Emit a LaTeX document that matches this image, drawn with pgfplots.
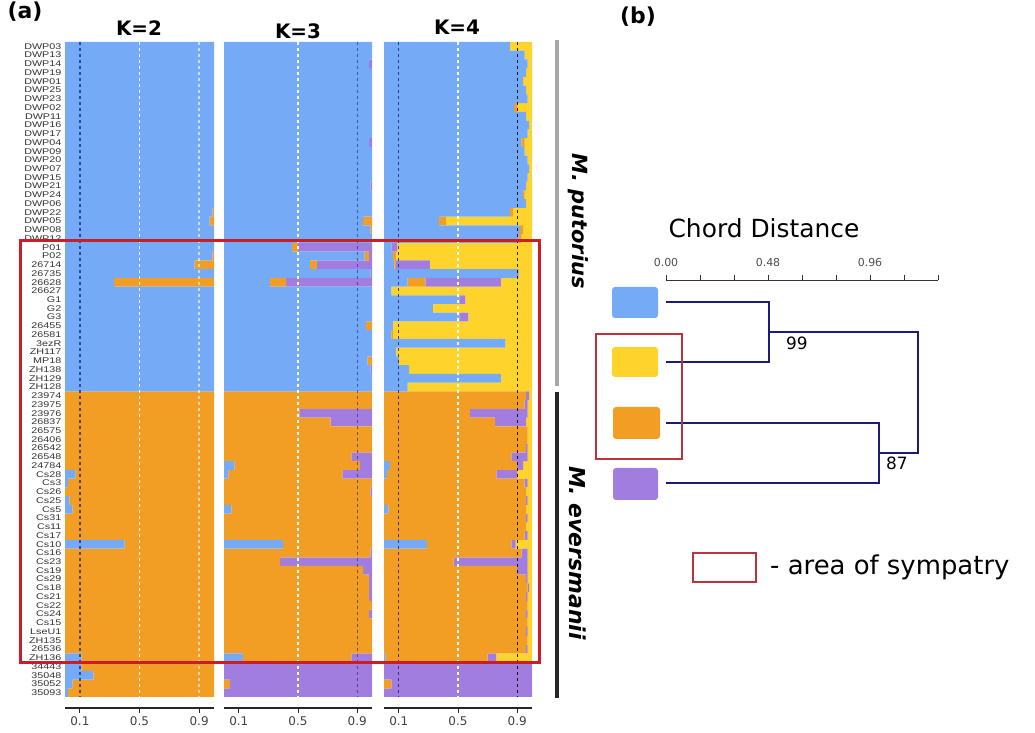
\documentclass[border=0pt]{standalone}
\usepackage{pgfplots}
\pgfplotsset{compat=1.18}
\usepackage{pgfplotstable}
\usepackage{fontspec}
\setmainfont{DejaVu Sans}
\newfontfamily\lblfont[FakeStretch=1.3]{Liberation Sans}
\definecolor{cB}{RGB}{116,170,246}
\definecolor{cO}{RGB}{242,157,35}
\definecolor{cY}{RGB}{254,212,44}
\definecolor{cP}{RGB}{160,125,222}
\definecolor{navy}{RGB}{28,28,120}
\definecolor{rbox}{RGB}{200,30,40}
\definecolor{rthin}{RGB}{190,50,60}
\tikzset{dashA/.style={line width=1.35bp, dash pattern=on 3.5bp off 2.5bp}}

\pgfplotstableread{
row b o
-1 1 0
-2 1 0
-3 1 0
-4 1 0
-5 1 0
-6 1 0
-7 1 0
-8 1 0
-9 1 0
-10 1 0
-11 1 0
-12 1 0
-13 1 0
-14 1 0
-15 1 0
-16 1 0
-17 1 0
-18 1 0
-19 1 0
-20 0.99 0.01
-21 0.97 0.03
-22 1 0
-23 1 0
-24 1 0
-25 0.99 0.01
-26 0.87 0.13
-27 1 0
-28 0.33 0.67
-29 1 0
-30 1 0
-31 1 0
-32 1 0
-33 1 0
-34 1 0
-35 1 0
-36 1 0
-37 1 0
-38 1 0
-39 1 0
-40 1 0
-41 0 1
-42 0 1
-43 0 1
-44 0 1
-45 0 1
-46 0 1
-47 0 1
-48 0 1
-49 0 1
-50 0.07 0.93
-51 0.02 0.98
-52 0 1
-53 0.03 0.97
-54 0.05 0.95
-55 0 1
-56 0 1
-57 0 1
-58 0.40 0.60
-59 0 1
-60 0 1
-61 0 1
-62 0 1
-63 0 1
-64 0 1
-65 0 1
-66 0 1
-67 0 1
-68 0 1
-69 0 1
-70 0 1
-71 0.11 0.89
-72 0.11 0.89
-73 0.19 0.81
-74 0.05 0.95
-75 0.02 0.98
}\ktwo

\pgfplotstableread{
row b o p
-1 1 0 0
-2 1 0 0
-3 0.98 0 0.02
-4 1 0 0
-5 1 0 0
-6 1 0 0
-7 1 0 0
-8 1 0 0
-9 1 0 0
-10 1 0 0
-11 1 0 0
-12 0.98 0 0.02
-13 1 0 0
-14 1 0 0
-15 1 0 0
-16 1 0 0
-17 0.99 0 0.01
-18 1 0 0
-19 1 0 0
-20 1 0 0
-21 0.94 0.06 0
-22 0.99 0.01 0
-23 1 0 0
-24 0.46 0.04 0.50
-25 0.95 0.03 0.02
-26 0.58 0.05 0.37
-27 0.99 0 0.01
-28 0.31 0.11 0.58
-29 1 0 0
-30 1 0 0
-31 1 0 0
-32 1 0 0
-33 0.96 0.04 0
-34 1 0 0
-35 1 0 0
-36 1 0 0
-37 0.97 0.03 0
-38 0.99 0 0.01
-39 1 0 0
-40 1 0 0
-41 0 1 0
-42 0 1 0
-43 0 0.51 0.49
-44 0 0.72 0.28
-45 0 1 0
-46 0 1 0
-47 0 1 0
-48 0 0.86 0.14
-49 0.07 0.85 0.08
-50 0.03 0.77 0.20
-51 0 1 0
-52 0 0.99 0.01
-53 0 1 0
-54 0.05 0.95 0
-55 0 1 0
-56 0 1 0
-57 0 1 0
-58 0.40 0.60 0
-59 0 0.99 0.01
-60 0 0.38 0.62
-61 0 0.94 0.06
-62 0 0.98 0.02
-63 0 0.98 0.02
-64 0 0.98 0.02
-65 0 1 0
-66 0 0.98 0.02
-67 0 1 0
-68 0 1 0
-69 0 1 0
-70 0 1 0
-71 0.13 0.73 0.14
-72 0 0 1
-73 0 0 1
-74 0 0.04 0.96
-75 0 0 1
}\kthree

\pgfplotstableread{
row b o p y
-1 0.85 0 0 0.15
-2 0.95 0 0 0.05
-3 0.97 0 0 0.03
-4 0.96 0 0 0.04
-5 0.94 0 0 0.06
-6 0.96 0 0 0.04
-7 0.97 0 0 0.03
-8 0.88 0.02 0 0.10
-9 0.96 0 0 0.04
-10 0.98 0 0 0.02
-11 0.97 0 0 0.03
-12 0.93 0.02 0 0.05
-13 0.95 0 0 0.05
-14 0.97 0 0 0.03
-15 0.98 0 0 0.02
-16 0.97 0 0 0.03
-17 0.96 0 0 0.04
-18 0.94 0.01 0 0.05
-19 0.96 0 0 0.04
-20 0.85 0.02 0 0.13
-21 0.37 0.05 0 0.58
-22 0.92 0.02 0 0.06
-23 0.91 0.02 0 0.07
-24 0.05 0 0.04 0.91
-25 0.06 0.02 0 0.92
-26 0.07 0.01 0.23 0.69
-27 0.90 0 0.01 0.09
-28 0.16 0.12 0.51 0.21
-29 0.05 0 0 0.95
-30 0.51 0 0.04 0.45
-31 0.33 0 0 0.67
-32 0.51 0 0.06 0.43
-33 0.06 0 0 0.94
-34 0.05 0.01 0 0.94
-35 0.82 0 0 0.18
-36 0.08 0 0 0.92
-37 0.10 0 0 0.90
-38 0.17 0 0 0.83
-39 0.79 0 0 0.21
-40 0.16 0 0 0.84
-41 0 0.96 0.02 0.02
-42 0 0.95 0.02 0.03
-43 0 0.58 0.39 0.03
-44 0 0.75 0.21 0.04
-45 0 0.97 0 0.03
-46 0 0.97 0 0.03
-47 0 0.96 0.01 0.03
-48 0 0.86 0.11 0.03
-49 0.04 0.86 0.04 0.06
-50 0.02 0.74 0.14 0.10
-51 0 0.95 0.02 0.03
-52 0 0.96 0 0.04
-53 0 0.96 0.01 0.03
-54 0.03 0.93 0 0.04
-55 0 0.96 0.01 0.03
-56 0 0.96 0 0.04
-57 0 0.95 0.02 0.03
-58 0.29 0.57 0.03 0.11
-59 0 0.93 0.04 0.03
-60 0 0.47 0.50 0.03
-61 0 0.90 0.07 0.03
-62 0 0.96 0.01 0.03
-63 0 0.97 0.01 0.02
-64 0 0.96 0.01 0.03
-65 0 0.97 0 0.03
-66 0 0.96 0.01 0.03
-67 0 0.97 0 0.03
-68 0 0.96 0.01 0.03
-69 0 0.97 0 0.03
-70 0 0.96 0.01 0.03
-71 0.01 0.69 0.06 0.24
-72 0 0 1 0
-73 0 0 1 0
-74 0 0.05 0.95 0
-75 0 0 1 0
}\kfour

\pgfplotsset{
  panel/.style={
    scale only axis, height=666bp,
    xmin=0, xmax=1, ymin=-76.76, ymax=-0.5,
    xbar stacked, bar width=1,
    axis x line=bottom, axis y line=left,
    axis line style={-},
    x axis line style={line width=1.2bp, black!85},
    y axis line style={draw=none},
    ytick style={draw=none},
    ytick=\empty,
    xtick={0.1,0.5,0.9},
    xtick align=outside, major tick length=5bp,
    xtick style={line width=1bp, black!85},
    xticklabel style={font=\fontsize{12}{12}\selectfont, text=black!75},
    /pgf/number format/assume math mode=true,
    clip=false,
  },
  over/.style={
    scale only axis, height=666bp,
    xmin=0, xmax=1, ymin=-76.76, ymax=-0.5,
    hide axis, clip=false,
  },
}

\begin{document}
\begin{tikzpicture}
\useasboundingbox (0,0) rectangle (1035bp,733bp);

% ---------- K=2 ----------
\begin{axis}[panel, at={(65bp,25bp)}, anchor=south west, width=149bp,
  ytick={-1,-2,...,-75},
  yticklabels={DWP03,DWP13,DWP14,DWP19,DWP01,DWP25,DWP23,DWP02,DWP11,DWP16,DWP17,DWP04,DWP09,DWP20,DWP07,DWP15,DWP21,DWP24,DWP06,DWP22,DWP05,DWP08,DWP12,P01,P02,26714,26735,26628,26627,G1,G2,G3,26455,26581,3ezR,ZH117,MP18,ZH138,ZH129,ZH128,23974,23975,23976,26837,26575,26406,26542,26548,24784,Cs28,Cs3,Cs26,Cs25,Cs5,Cs31,Cs11,Cs17,Cs10,Cs16,Cs23,Cs19,Cs29,Cs18,Cs21,Cs22,Cs24,Cs15,LseU1,ZH135,26536,ZH136,34443,35048,35052,35093},
  yticklabel style={font=\lblfont\fontsize{8.3}{8.3}\selectfont, text=black!80, inner sep=1bp}]
\addplot[fill=cB, draw=none] table[x=b,y=row]{\ktwo};
\addplot[fill=cO, draw=none] table[x=o,y=row]{\ktwo};
\end{axis}
\begin{axis}[over, at={(65bp,25bp)}, anchor=south west, width=149bp]
\addplot[navy, opacity=0.7, dashA, mark=none] coordinates {(0.1,-0.5) (0.1,-75.5)};
\addplot[white, dashA, mark=none] coordinates {(0.5,-0.5) (0.5,-75.5)};
\addplot[white, opacity=0.6, dashA, mark=none] coordinates {(0.9,-0.5) (0.9,-75.5)};
\end{axis}

% ---------- K=3 ----------
\begin{axis}[panel, at={(224bp,25bp)}, anchor=south west, width=148bp]
\addplot[fill=cB, draw=none] table[x=b,y=row]{\kthree};
\addplot[fill=cO, draw=none] table[x=o,y=row]{\kthree};
\addplot[fill=cP, draw=none] table[x=p,y=row]{\kthree};
\end{axis}
\begin{axis}[over, at={(224bp,25bp)}, anchor=south west, width=148bp]
\addplot[white, dashA, mark=none] coordinates {(0.5,-0.5) (0.5,-75.5)};
\addplot[navy, opacity=0.6, dashA, mark=none] coordinates {(0.9,-0.5) (0.9,-75.5)};
\end{axis}

% ---------- K=4 ----------
\begin{axis}[panel, at={(384bp,25bp)}, anchor=south west, width=148bp]
\addplot[fill=cB, draw=none] table[x=b,y=row]{\kfour};
\addplot[fill=cO, draw=none] table[x=o,y=row]{\kfour};
\addplot[fill=cP, draw=none] table[x=p,y=row]{\kfour};
\addplot[fill=cY, draw=none] table[x=y,y=row]{\kfour};
\end{axis}
\begin{axis}[over, at={(384bp,25bp)}, anchor=south west, width=148bp]
\addplot[navy, opacity=0.8, dashA, mark=none] coordinates {(0.1,-0.5) (0.1,-75.5)};
\addplot[white, dashA, mark=none] coordinates {(0.5,-0.5) (0.5,-75.5)};
\addplot[black, opacity=0.85, dashA, mark=none] coordinates {(0.9,-0.5) (0.9,-75.5)};
\end{axis}

% titles
\node[font=\bfseries\fontsize{22}{22}\selectfont] at (25bp,721bp) {(a)};
\node[font=\bfseries\fontsize{22}{22}\selectfont] at (638bp,716bp) {(b)};
\node[font=\bfseries\fontsize{20}{20}\selectfont] at (139bp,705bp) {K=2};
\node[font=\bfseries\fontsize{20}{20}\selectfont] at (298bp,702bp) {K=3};
\node[font=\bfseries\fontsize{20}{20}\selectfont] at (457bp,706bp) {K=4};

% sympatry box in (a)
\draw[rbox, line width=3bp] (20bp,492bp) rectangle (539bp,70bp);

% species bars and labels
\fill[black!35] (555bp,693bp) rectangle (559bp,347bp);
\fill[black!85] (555bp,341bp) rectangle (559bp,35bp);
\node[rotate=-90, font=\bfseries\itshape\fontsize{21}{21}\selectfont] at (578bp,512bp) {M. putorius};
\node[rotate=-90, font=\bfseries\itshape\fontsize{22}{22}\selectfont] at (578bp,180bp) {M. eversmanii};

% ---------- (b) dendrogram ----------
\node[font=\fontsize{25}{25}\selectfont] at (764bp,505bp) {Chord Distance};
\begin{axis}[at={(666bp,220bp)}, anchor=south west, scale only axis,
  width=272bp, height=233bp,
  xmin=0, xmax=1.28, ymin=-4.5, ymax=-0.635,
  axis x line=top, axis y line=none,
  axis line style={-, black!80, line width=0.9bp},
  xtick={0,0.16,0.32,0.48,0.64,0.8,0.96,1.12,1.28},
  xticklabels={0.00,,,0.48,,,0.96,,},
  xtick align=outside, major tick length=5bp,
  xtick style={black!80, line width=0.9bp},
  xticklabel style={font=\fontsize{11}{11}\selectfont, text=black!70, yshift=5bp},
  clip=false]
\addplot[navy, line width=2bp, line join=miter, mark=none] coordinates {(0,-1) (0.485,-1) (0.485,-2) (0,-2)};
\addplot[navy, line width=2bp, line join=miter, mark=none] coordinates {(0.485,-1.5) (1.186,-1.5) (1.186,-3.5) (1.0,-3.5)};
\addplot[navy, line width=2bp, line join=miter, mark=none] coordinates {(0,-3) (1.0,-3) (1.0,-4) (0,-4)};
\node[font=\fontsize{17}{17}\selectfont] at (0.616,-1.68) {99};
\node[font=\fontsize{17}{17}\selectfont] at (1.087,-3.67) {87};
\end{axis}

% legend swatches
\fill[cB, rounded corners=3bp] (612bp,446bp) rectangle (658bp,415bp);
\fill[cY, rounded corners=3bp] (612bp,386bp) rectangle (658bp,356bp);
\fill[cO, rounded corners=3bp] (613bp,326bp) rectangle (660bp,294bp);
\fill[cP, rounded corners=3bp] (613bp,265bp) rectangle (658bp,233bp);
\draw[rthin, line width=1.3bp] (596bp,399bp) rectangle (682bp,274bp);

\draw[rthin, line width=1.3bp] (693bp,180bp) rectangle (756bp,151bp);
\node[anchor=west, font=\fontsize{26}{26}\selectfont, inner sep=0pt] at (770bp,166bp) {- area of sympatry};
\end{tikzpicture}
\end{document}
